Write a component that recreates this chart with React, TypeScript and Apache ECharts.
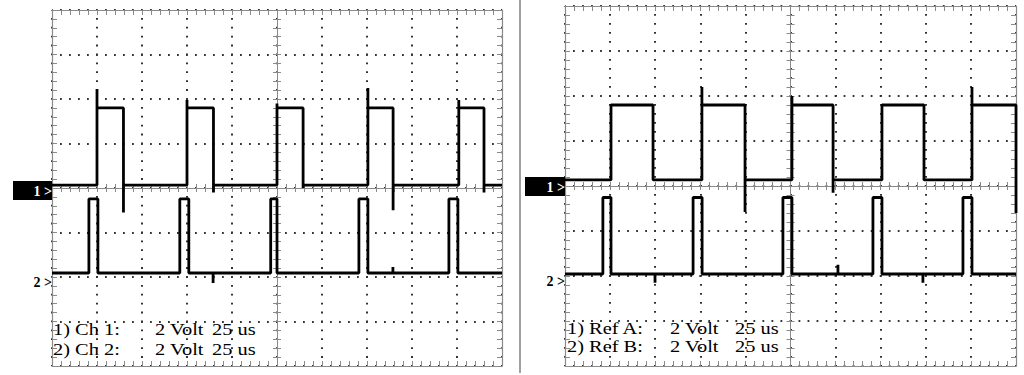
import React, { useEffect, useRef } from 'react';
import * as echarts from 'echarts';

// Screen scale: 10 horizontal divisions x 25 us, 8 vertical divisions x 2 V
const T_MIN = -125;
const T_MAX = 125;
const T_DIV = 25;
const V_MIN = -8;
const V_MAX = 8;
const V_DIV = 2;

// ---------- Left screen: Ch 1 / Ch 2 ----------
const ch1Rise = [-100, -50, 0, 50.5, 101];
const ch1Fall = [-85.3, -35.3, 14.5, 64.5, 115];
const ch1RiseSpike = [4.45, 3.95, 3.8, 4.5, 3.95];
const ch1FallSpike = [-1.1, -0.2, 0.0, -1.0, -0.2];
const ch1Levels = [0.13, 3.6];
const ch1Glitch: number[][] = [];

const ch2Rise = [-104.5, -54, -3.5, 45.5, 95.5];
const ch2Fall = [-99.5, -49, 0, 50.5, 100.5];
const ch2Levels = [-3.82, -0.49];
const ch2Glitch = [
  [-35.5, -4.27],
  [64.4, -3.55],
];

// ---------- Right screen: Ref A / Ref B ----------
const refARise = [-99.5, -49.1, 0.8, 50.7, 100.6];
const refAFall = [-76.2, -25.2, 23.6, 74, 125];
const refARiseSpike = [3.6, 4.4, 4.0, 3.6, 4.4];
const refAFallSpike = [0.27, -1.16, -0.3, 0.27, -1.2];
const refALevels = [0.27, 3.6];
const refAGlitch: number[][] = [];

const refBRise = [-104, -54, -4.2, 45.7, 95.6];
const refBFall = [-99.5, -49, 0.8, 50.7, 100.6];
const refBLevels = [-3.91, -0.51];
const refBGlitch = [
  [-75.1, -4.3],
  [26.3, -3.5],
  [73.4, -4.3],
];

// ---------- Readout texts ----------
const leftReadout = [
  ['1) Ch 1:', '2 Volt', '25 us'],
  ['2) Ch 2:', '2 Volt', '25 us'],
];
const rightReadout = [
  ['1) Ref A:', '2 Volt', '25 us'],
  ['2) Ref B:', '2 Volt', '25 us'],
];

function pulseTrain(
  rise: number[],
  fall: number[],
  levels: number[],
  riseSpike: number[] | null,
  fallSpike: number[] | null,
  glitch: number[][]
) {
  const [low, high] = levels;
  const events: { t: number; v: number[] }[] = [];
  rise.forEach((r, i) => {
    events.push({ t: r, v: riseSpike ? [low, riseSpike[i], high] : [low, high] });
    events.push({ t: fall[i], v: fallSpike ? [high, fallSpike[i], low] : [high, low] });
  });
  glitch.forEach(([t, g]) => events.push({ t, v: [low, g, low] }));
  events.sort((a, b) => a.t - b.t);
  const pts: number[][] = [[T_MIN, low]];
  events.forEach((e) => e.v.forEach((v) => pts.push([e.t, v])));
  pts.push([T_MAX, low]);
  return pts;
}

const BORDER = '#8a8a8a';
const DOT = '#333333';

function panelAxes(g: number, xBase: number, yBase: number, dashX: number, dashY: number) {
  const common = {
    type: 'value',
    gridIndex: g,
    axisLabel: { show: false },
    minorSplitLine: { show: false },
    splitArea: { show: false },
  };
  const xc = { ...common, min: T_MIN, max: T_MAX, interval: T_DIV };
  const yc = { ...common, min: V_MIN, max: V_MAX, interval: V_DIV };
  const line = { color: BORDER, width: 1.2 };
  const tick = (len: number) => ({ show: true, inside: true, length: len, lineStyle: { color: BORDER, width: 1 } });
  const minor = (len: number) => ({ show: true, splitNumber: 5, length: len, lineStyle: { color: BORDER, width: 1 } });
  const xAxes = [
    {
      ...xc,
      position: 'bottom',
      axisLine: { show: true, onZero: false, lineStyle: line },
      axisTick: tick(5),
      minorTick: minor(5),
      splitLine: {
        show: true,
        lineStyle: { color: DOT, width: 2, type: [1.8, dashX - 1.8], dashOffset: 0.9 },
      },
    },
    {
      ...xc,
      position: 'top',
      axisLine: { show: true, onZero: false, lineStyle: line },
      axisTick: tick(5),
      minorTick: minor(5),
      splitLine: { show: false },
    },
    {
      ...xc,
      position: 'bottom',
      axisLine: { show: true, onZero: true, onZeroAxisIndex: yBase, lineStyle: { color: BORDER, width: 1 } },
      axisTick: tick(4),
      minorTick: minor(4),
      splitLine: { show: false },
    },
    {
      ...xc,
      position: 'top',
      axisLine: { show: true, onZero: true, onZeroAxisIndex: yBase, lineStyle: { color: BORDER, width: 1 } },
      axisTick: tick(4),
      minorTick: minor(4),
      splitLine: { show: false },
    },
  ];
  const yAxes = [
    {
      ...yc,
      position: 'left',
      axisLine: { show: true, onZero: false, lineStyle: line },
      axisTick: tick(5),
      minorTick: minor(5),
      splitLine: {
        show: true,
        lineStyle: { color: DOT, width: 2, type: [1.8, dashY - 1.8], dashOffset: 0.9 },
      },
    },
    {
      ...yc,
      position: 'right',
      axisLine: { show: true, onZero: false, lineStyle: line },
      axisTick: tick(5),
      minorTick: minor(5),
      splitLine: { show: false },
    },
    {
      ...yc,
      position: 'left',
      axisLine: { show: true, onZero: true, onZeroAxisIndex: xBase, lineStyle: { color: BORDER, width: 1 } },
      axisTick: tick(4),
      minorTick: minor(4),
      splitLine: { show: false },
    },
    {
      ...yc,
      position: 'right',
      axisLine: { show: true, onZero: true, onZeroAxisIndex: xBase, lineStyle: { color: BORDER, width: 1 } },
      axisTick: tick(4),
      minorTick: minor(4),
      splitLine: { show: false },
    },
  ];
  return { xAxes, yAxes };
}

function readoutTexts(rows: string[][], xs: number[], ys: number[]) {
  const out: any[] = [];
  rows.forEach((row, r) =>
    row.forEach((txt, c) =>
      out.push({
        type: 'text',
        x: xs[c],
        y: ys[r],
        scaleX: 1.2,
        z: 20,
        style: {
          text: txt,
          fill: '#000',
          fontSize: 17,
          fontFamily: '"Liberation Serif", "Times New Roman", serif',
          align: 'left',
          verticalAlign: 'middle',
        },
      })
    )
  );
  return out;
}

function markers(boxX: number, boxY: number, edgeX: number, y2: number) {
  const font = 'bold 14px "Liberation Serif", serif';
  return [
    { type: 'rect', z: 20, shape: { x: boxX, y: boxY, width: edgeX - boxX, height: 19 }, style: { fill: '#000' } },
    {
      type: 'text',
      z: 21,
      x: edgeX,
      y: boxY + 10,
      style: { text: '1 >', fill: '#fff', font, align: 'right', verticalAlign: 'middle' },
    },
    {
      type: 'text',
      z: 21,
      x: edgeX,
      y: y2,
      style: { text: '2 >', fill: '#000', font, align: 'right', verticalAlign: 'middle' },
    },
  ];
}

export default function App() {
  const ref = useRef<HTMLDivElement>(null);
  useEffect(() => {
    if (!ref.current) return;
    const chart = echarts.init(ref.current, null, { renderer: 'svg' });
    const left = panelAxes(0, 0, 0, 356 / 40, 450 / 50);
    const right = panelAxes(1, 4, 4, 360 / 40, 451 / 50);
    const trace = { color: '#000', width: 2.8 };
    const mk = (data: number[][], xi: number, yi: number) => ({
      type: 'line',
      xAxisIndex: xi,
      yAxisIndex: yi,
      data,
      symbol: 'none',
      showSymbol: false,
      silent: true,
      z: 5,
      lineStyle: trace,
    });
    const option: any = {
      animation: false,
      backgroundColor: '#ffffff',
      grid: [
        { left: 52, top: 10, width: 450, height: 356, outerBoundsMode: 'none', containLabel: false },
        { left: 565, top: 6, width: 451, height: 360, outerBoundsMode: 'none', containLabel: false },
      ],
      xAxis: [...left.xAxes, ...right.xAxes],
      yAxis: [...left.yAxes, ...right.yAxes],
      series: [
        mk(pulseTrain(ch1Rise, ch1Fall, ch1Levels, ch1RiseSpike, ch1FallSpike, ch1Glitch), 0, 0),
        mk(pulseTrain(ch2Rise, ch2Fall, ch2Levels, null, null, ch2Glitch), 0, 0),
        mk(pulseTrain(refARise, refAFall, refALevels, refARiseSpike, refAFallSpike, refAGlitch), 4, 4),
        mk(pulseTrain(refBRise, refBFall, refBLevels, null, null, refBGlitch), 4, 4),
      ],
      graphic: [
        {
          type: 'line',
          z: 20,
          shape: { x1: 520, y1: 0, x2: 520, y2: 373 },
          style: { stroke: '#808080', lineWidth: 1.5 },
        },
        ...markers(13, 181, 52, 282),
        ...markers(525, 177, 565, 281),
        ...readoutTexts(leftReadout, [53, 155, 212], [329, 349]),
        ...readoutTexts(rightReadout, [567, 670, 735], [328, 346]),
      ],
    };
    chart.setOption(option);
    return () => chart.dispose();
  }, []);
  return (
    <div
      ref={ref}
      style={{ position: 'fixed', left: 0, top: 0, width: 1024, height: 375, background: '#fff' }}
    />
  );
}
